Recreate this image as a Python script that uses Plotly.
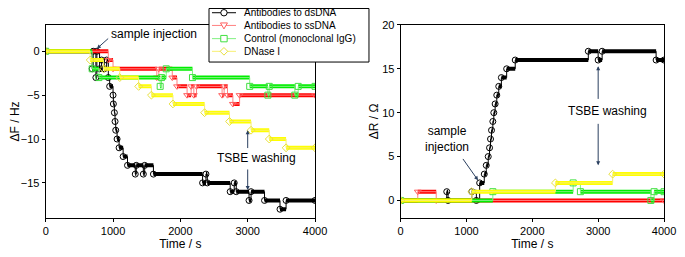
import plotly.graph_objects as go

# ---------------- data (step breakpoints: time in s, value) ----------------
series_names = ["Antibodies to dsDNA", "Antibodies to ssDNA", "Control (monoclonal IgG)", "DNase I"]

# Left panel: frequency shift dF / Hz
ds_F_t = [0, 690, 705, 745, 760, 800, 830, 870, 905, 930, 950, 1000, 1005, 1020, 1030, 1040, 1060, 1090, 1150, 1215,
          1330, 1345, 1450, 1470, 1600, 2330, 2380, 2400, 2740, 2800, 2830, 3020, 3050, 3250, 3480, 3570, 4000]
ds_F_v = [0, -2, 0, -3, 0, -2, -1, -2, -1, -3, -4, -5, -6, -7, -8, -9, -10, -11, -12, -13,
          -14, -13, -14, -13, -14, -15, -14, -15, -16, -15, -16, -17, -16, -17, -18, -17, -17]

ss_F_t = [0, 930, 1000, 1650, 1680, 1880, 1950, 2100, 2160, 2200, 2240, 2620, 2650, 2700, 2780, 2880, 4000]
ss_F_v = [0, -1, -2, -3, -2, -3, -4, -5, -4, -5, -4, -5, -4, -5, -6, -5, -5]

ct_F_t = [0, 690, 790, 1700, 1720, 1790, 2180, 3030, 3300, 3320, 3700, 3750, 4000]
ct_F_v = [0, -2, -3, -4, -3, -2, -3, -4, -5, -4, -5, -4, -4]

dn_F_t = [0, 660, 860, 1100, 1380, 1570, 1890, 2360, 2730, 3050, 3320, 3570, 4000]
dn_F_v = [0, -1, -2, -3, -4, -5, -6, -7, -8, -9, -10, -11, -11]

# Right panel: resistance change dR / Ohm
ds_R_t = [0, 700, 720, 1080, 1150, 1200, 1270, 1300, 1330, 1350, 1365, 1380, 1400, 1415, 1435, 1460, 1490, 1530,
          1610, 1740, 2850, 3000, 3060, 3880, 4000]
ds_R_v = [0, 1, 0, 1, 0, 2, 3, 4, 5, 6, 7, 8, 9, 10, 11, 12, 13, 14, 15, 16, 17, 16, 17, 16, 16]

ss_R_t = [0, 260, 540, 4000]
ss_R_v = [0, 1, 0, 0]

ct_R_t = [0, 1400, 2620, 2730, 3800, 3850, 4000]
ct_R_v = [0, 1, 2, 1, 0, 1, 1]

dn_R_t = [0, 1080, 2350, 3220, 4000]
dn_R_v = [0, 1, 2, 3, 3]

left_ticks_y = [0, -5, -10, -15]
right_ticks_y = [0, 5, 10, 15, 20]
x_ticks = [0, 1000, 2000, 3000, 4000]

# ---------------- styles ----------------
bar_colors = ["#000000", "#ff0000", "#00ee00", "#ffff00"]
thin_colors = ["#000000", "#ff8080", "#80f080", "#f8f070"]
symbols = ["circle-open", "triangle-down-open", "square-open", "diamond-open"]
marker_colors = ["#000000", "#ff6060", "#40e040", "#e8e040"]
FONT = "Liberation Sans, Arial, sans-serif"

W, H = 677, 249   # page has an 8 px body margin inside the 685x257 window


def segments(t, v):
    xs, ys = [], []
    for i in range(len(t) - 1):
        xs += [t[i], t[i + 1], None]
        ys += [v[i], v[i], None]
    return xs, ys


fig = go.Figure()

left = [(ds_F_t, ds_F_v), (ss_F_t, ss_F_v), (ct_F_t, ct_F_v), (dn_F_t, dn_F_v)]
right = [(ds_R_t, ds_R_v), (ss_R_t, ss_R_v), (ct_R_t, ct_R_v), (dn_R_t, dn_R_v)]

for panel, (xa, ya) in zip([left, right], [("x", "y"), ("x2", "y2")]):
    for i, (t, v) in enumerate(panel):
        sx, sy = segments(t, v)
        fig.add_trace(go.Scatter(x=sx, y=sy, mode="lines", xaxis=xa, yaxis=ya,
                                 line=dict(color=bar_colors[i], width=4),
                                 showlegend=False, hoverinfo="skip"))
        fig.add_trace(go.Scatter(x=t, y=v, mode="lines+markers", xaxis=xa, yaxis=ya,
                                 name=series_names[i], showlegend=False,
                                 line=dict(color=thin_colors[i], width=1, shape="hv"),
                                 marker=dict(symbol=symbols[i], size=6, color=marker_colors[i],
                                             line=dict(width=1, color=marker_colors[i]))))

# ---------------- compact legend (box, sample symbols, labels) ----------------
leg_x0, leg_x1, leg_y0, leg_y1 = 0.2969, 0.5332, 0.783, 0.998
leg_rows = [0.981, 0.930, 0.877, 0.826]
sym_x0, sym_xm, sym_x1, txt_x = 0.3013, 0.3190, 0.3368, 0.3460
px_x, px_y = 1.0 / W, 1.0 / H

shapes = [dict(type="rect", xref="paper", yref="paper", x0=leg_x0, x1=leg_x1, y0=leg_y0, y1=leg_y1,
               line=dict(color="black", width=1), fillcolor="white", layer="above")]
annotations = []


def legend_symbol(kind, xm, ym):
    r = 3.2
    if kind == "circle":
        return dict(type="circle", x0=xm - r * px_x, x1=xm + r * px_x, y0=ym - r * px_y, y1=ym + r * px_y)
    if kind == "square":
        return dict(type="rect", x0=xm - r * px_x, x1=xm + r * px_x, y0=ym - r * px_y, y1=ym + r * px_y)
    if kind == "triangle":
        pts = [(xm - 3.5 * px_x, ym + 2.5 * px_y), (xm + 3.5 * px_x, ym + 2.5 * px_y), (xm, ym - 3.5 * px_y)]
    else:
        pts = [(xm, ym + 3.8 * px_y), (xm + 3.8 * px_x, ym), (xm, ym - 3.8 * px_y), (xm - 3.8 * px_x, ym)]
    path = "M " + " L ".join(f"{a:.5f},{b:.5f}" for a, b in pts) + " Z"
    return dict(type="path", path=path)


kinds = ["circle", "triangle", "square", "diamond"]
for i, name in enumerate(series_names):
    shapes.append(dict(type="line", xref="paper", yref="paper", x0=sym_x0, x1=sym_x1,
                       y0=leg_rows[i], y1=leg_rows[i], line=dict(color=thin_colors[i], width=1),
                       layer="above"))
    s = legend_symbol(kinds[i], sym_xm, leg_rows[i])
    s.update(xref="paper", yref="paper", fillcolor="white", layer="above",
             line=dict(color=marker_colors[i], width=1))
    shapes.append(s)
    annotations.append(dict(x=txt_x, y=leg_rows[i], xref="paper", yref="paper", text=name,
                            xanchor="left", yanchor="middle", showarrow=False,
                            font=dict(size=10, family=FONT, color="black")))

axis_common = dict(showline=True, linecolor="black", linewidth=1, mirror=True, ticks="outside",
                   ticklen=3, tickcolor="black", showgrid=False, zeroline=False, automargin=False,
                   tickfont=dict(size=11, color="black", family=FONT),
                   title_font=dict(size=12, color="black", family=FONT))

fig.update_layout(
    width=W, height=H,
    margin=dict(l=0, r=0, t=0, b=0),
    paper_bgcolor="white", plot_bgcolor="white",
    font=dict(family=FONT, color="black"),
    xaxis=dict(domain=[0.0557, 0.4535], range=[0, 4000], tickvals=x_ticks, anchor="y",
               title=dict(text="Time / s", standoff=2), **axis_common),
    yaxis=dict(domain=[0.1566, 0.932], range=[-19, 3], tickvals=left_ticks_y, anchor="x",
               title=dict(text="ΔF / Hz", standoff=1), **axis_common),
    xaxis2=dict(domain=[0.580, 0.969], range=[0, 4000], tickvals=x_ticks, anchor="y2",
                title=dict(text="Time / s", standoff=2), **axis_common),
    yaxis2=dict(domain=[0.1566, 0.932], range=[-2, 20], tickvals=right_ticks_y, anchor="x2",
                title=dict(text="ΔR / Ω", standoff=1), **axis_common),
    showlegend=False,
    shapes=shapes,
)

ann_font = dict(size=12, family=FONT, color="black")
annotations += [
    # left panel
    dict(x=760, y=0.3, ax=950, ay=1.6, xref="x", yref="y", axref="x", ayref="y",
         text="", showarrow=True, arrowhead=2, arrowsize=0.8, arrowwidth=1),
    dict(x=1605, y=2.0, xref="x", yref="y", text="sample injection", showarrow=False, font=ann_font),
    dict(x=3126, y=-12.2, xref="x", yref="y", text="TSBE washing", showarrow=False, font=ann_font),
    dict(x=3000, y=-9.0, ax=3000, ay=-11.2, xref="x", yref="y", axref="x", ayref="y",
         text="", showarrow=True, arrowhead=2, arrowsize=0.8, arrowwidth=1),
    dict(x=3000, y=-15.8, ax=3000, ay=-13.3, xref="x", yref="y", axref="x", ayref="y",
         text="", showarrow=True, arrowhead=2, arrowsize=0.8, arrowwidth=1),
    # right panel
    dict(x=1175, y=2.3, ax=930, ay=4.9, xref="x2", yref="y2", axref="x2", ayref="y2",
         text="", showarrow=True, arrowhead=2, arrowsize=0.8, arrowwidth=1),
    dict(x=700, y=7.0, xref="x2", yref="y2", text="sample<br>injection", showarrow=False,
         font=ann_font, align="center"),
    dict(x=3141, y=10.2, xref="x2", yref="y2", text="TSBE washing", showarrow=False, font=ann_font),
    dict(x=3000, y=15.3, ax=3000, ay=11.4, xref="x2", yref="y2", axref="x2", ayref="y2",
         text="", showarrow=True, arrowhead=2, arrowsize=0.8, arrowwidth=1),
    dict(x=3000, y=4.0, ax=3000, ay=8.9, xref="x2", yref="y2", axref="x2", ayref="y2",
         text="", showarrow=True, arrowhead=2, arrowsize=0.8, arrowwidth=1),
]
fig.update_layout(annotations=annotations)

fig.write_html("out.html")
